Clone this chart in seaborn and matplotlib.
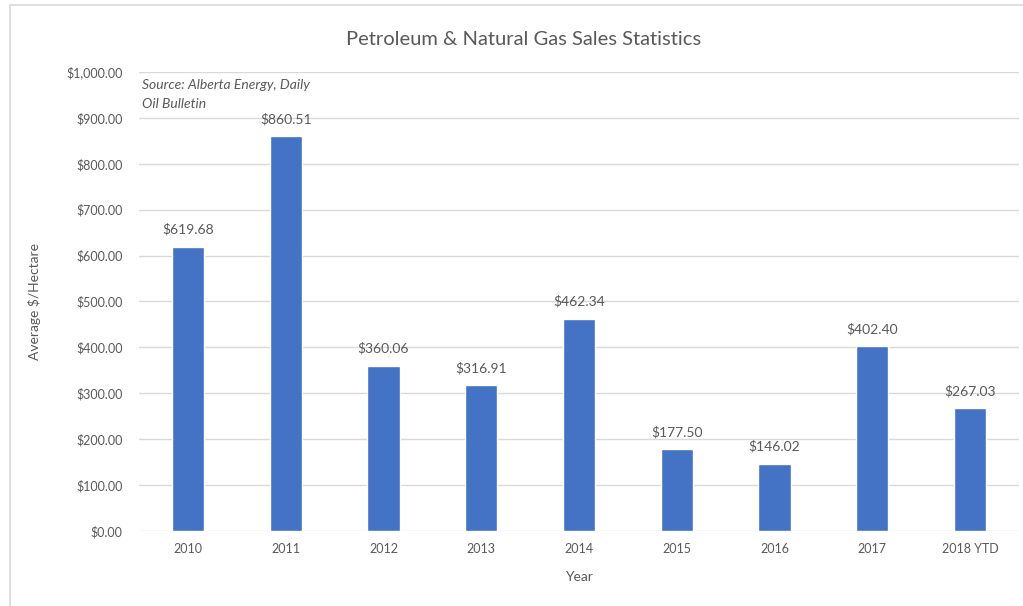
import matplotlib
matplotlib.use("Agg")
import matplotlib.pyplot as plt
import matplotlib.ticker as mticker
from matplotlib.patches import Rectangle
import seaborn as sns
import pandas as pd

years = ["2010", "2011", "2012", "2013", "2014", "2015", "2016", "2017", "2018 YTD"]
avg_per_hectare = [619.68, 860.51, 360.06, 316.91, 462.34, 177.50, 146.02, 402.40, 267.03]

sns.set_theme(style="white")
plt.rcParams["font.family"] = ["Lato", "DejaVu Sans"]

TEXT = "#595959"
BAR = "#4472C4"

df = pd.DataFrame({"Year": years, "value": avg_per_hectare})

fig = plt.figure(figsize=(10.23, 6.06), dpi=100)
ax = fig.add_axes([0.136, 0.124, 0.86, 0.757])

sns.barplot(data=df, x="Year", y="value", color=BAR, width=0.33,
            saturation=1, ax=ax, zorder=3)

ax.set_ylim(0, 1000)
ax.set_xlim(-0.5, len(years) - 0.5)
ax.yaxis.set_major_locator(mticker.MultipleLocator(100))
ax.yaxis.set_major_formatter(mticker.FuncFormatter(lambda v, p: f"${v:,.2f}"))
ax.grid(axis="y", color="#d9d9d9", lw=1, zorder=0)
for s in ax.spines.values():
    s.set_visible(False)
ax.tick_params(axis="both", length=0, colors=TEXT, labelsize=9, pad=12)
ax.tick_params(axis="x", pad=9)
ax.set_xlabel("Year", color=TEXT, fontsize=10, labelpad=11)
ax.set_ylabel("Average $/Hectare", color=TEXT, fontsize=10, labelpad=18)

for i, v in enumerate(avg_per_hectare):
    ax.text(i, v + 24, f"${v:,.2f}", ha="center", va="bottom",
            fontsize=10, color=TEXT)

ax.text(0.003, 0.985, "Source: Alberta Energy, Daily\nOil Bulletin",
        transform=ax.transAxes, ha="left", va="top", fontsize=10,
        style="italic", color=TEXT, linespacing=1.75)

fig.text(0.512, 0.935, "Petroleum & Natural Gas Sales Statistics",
         ha="center", va="center", fontsize=14.5, color=TEXT)

fig.patches.append(Rectangle((0.010, -0.01), 1.0, 1.0 - 0.0083 + 0.01,
                             transform=fig.transFigure, fill=False,
                             edgecolor="#d9d9d9", lw=1.2))

fig.savefig("out.png", dpi=100)
